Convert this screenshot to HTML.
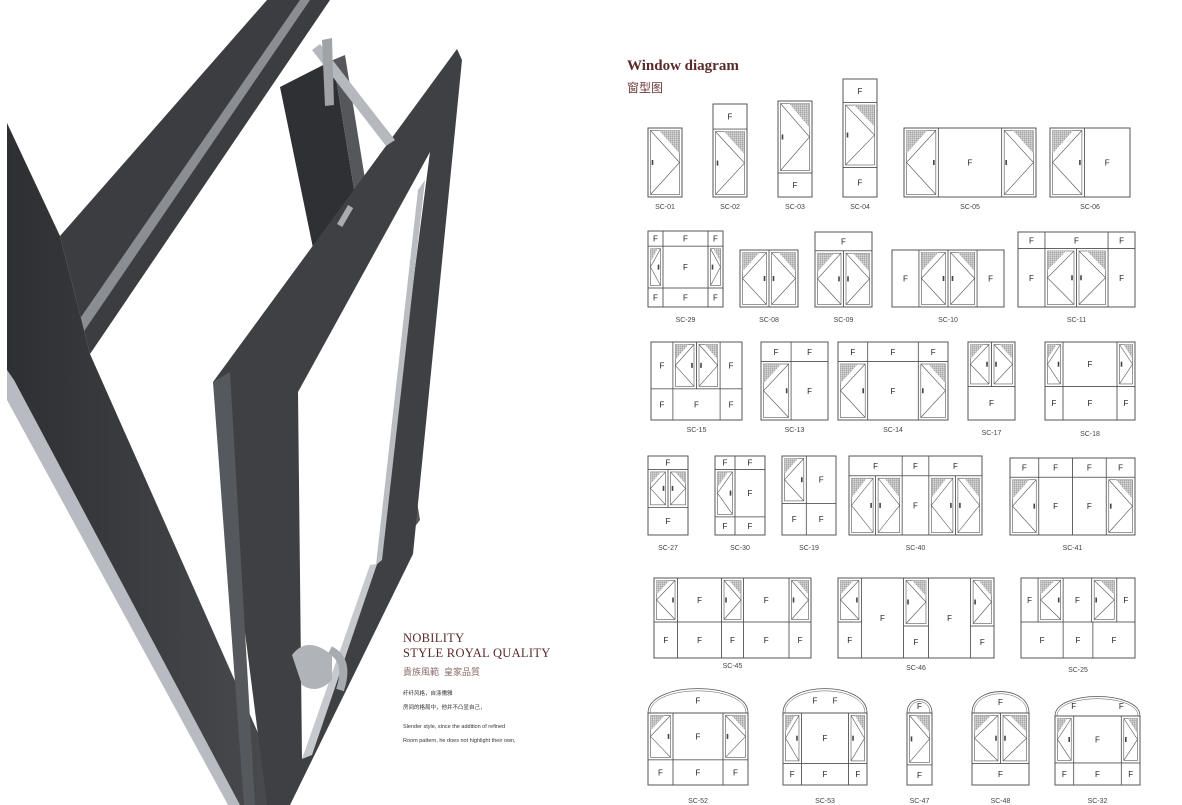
<!DOCTYPE html>
<html><head><meta charset="utf-8"><style>
html,body{margin:0;padding:0;background:#fff;width:1182px;height:805px;overflow:hidden;position:relative}
.t{position:absolute;white-space:nowrap}
.serif{font-family:"Liberation Serif","Noto Serif CJK SC",serif}
.sans{font-family:"Liberation Sans","Noto Sans CJK SC",sans-serif}
</style></head><body>
<svg id="s" width="1182" height="805" style="position:absolute;left:0;top:0">
<defs>
<pattern id="m" width="2" height="2" patternUnits="userSpaceOnUse"><rect width="2" height="2" fill="#d8d8d8"/><path d="M0 0H2M0 0V2" stroke="#777" stroke-width="0.6"/></pattern>
<linearGradient id="g1" x1="0" y1="0" x2="1" y2="0"><stop offset="0" stop-color="#2e2f32"/><stop offset="1" stop-color="#4a4c50"/></linearGradient>
</defs>
<!-- photo -->
<polygon points="267,0 330,0 90,354 60,236" fill="#3c3d41"/>
<polygon points="300,0 310,0 78,340 72,330" fill="#8a8d92"/>
<polygon points="7,123 60,236 90,354 290,805 233,805 7,390" fill="url(#g1)"/>
<polygon points="7,370 14,380 240,805 228,805 7,400" fill="#b8bcc2"/>
<polygon points="280,87 333,60 410,533 377,560" fill="#2f3033"/>
<polygon points="333,60 345,55 420,520 410,533" fill="#55575b"/>
<polygon points="213,382 457,49 462,60 413,554 290,805 267,805" fill="#3f4044"/>
<polygon points="298,392 430,152 377,564 302,759" fill="#fff"/>
<polygon points="213,382 230,372 255,805 244,805" fill="#55585c"/>
<polygon points="370,565 377,564 312,755 302,759" fill="#c5c9ce"/>
<polygon points="418,190 425,180 382,560 376,565" fill="#b9bdc2"/>
<polygon points="312,50 320,44 395,140 386,146" fill="#b5b8bc"/>
<polygon points="322,40 332,38 334,105 325,106" fill="#9fa3a8"/>
<rect x="340" y="205" width="6" height="22" fill="#a8abb0" transform="rotate(30 344 220)"/>
<path d="M292 655 q15 -20 40 0 l0 25 q-15 15 -30 5 z" fill="#b0b3b8"/>
<path d="M330 650 q20 10 10 40" stroke="#a7aaaf" stroke-width="8" fill="none"/>
<g id="w"></g>
</svg>
<div class="t serif" style="left:627px;top:58px;font-size:15px;font-weight:bold;color:#5a2a2a">Window diagram</div>
<div class="t sans" style="left:627px;top:79px;font-size:12px;color:#6b3a3a">窗型图</div>
<div class="t serif" style="left:403px;top:631px;font-size:12.5px;color:#5a2a2a;letter-spacing:0.3px">NOBILITY</div>
<div class="t serif" style="left:403px;top:646px;font-size:12.5px;color:#5a2a2a;letter-spacing:0.3px">STYLE ROYAL QUALITY</div>
<div class="t sans" style="left:403px;top:665px;font-size:9px;color:#8a6a6a">貴族風範&nbsp;&nbsp;皇家品質</div>
<div class="t sans" style="left:403px;top:689px;font-size:5.5px;color:#333">纤纤风格，自涤儒雅</div>
<div class="t sans" style="left:403px;top:703px;font-size:5.5px;color:#333">房间的格局中，他并不凸显自己，</div>
<div class="t sans" style="left:403px;top:724px;font-size:5.5px;color:#333">Slender style, since the addition of refined</div>
<div class="t sans" style="left:403px;top:738px;font-size:5.5px;color:#333">Room pattern, he does not highlight their own,</div>
<script>
var NS="http://www.w3.org/2000/svg",G=document.getElementById('w'),S='#555';
function el(n,a,txt){var e=document.createElementNS(NS,n);for(var k in a)e.setAttribute(k,a[k]);if(txt)e.textContent=txt;G.appendChild(e);return e;}
function rect(x,y,w,h,sw){el('rect',{x:x,y:y,width:w,height:h,fill:'none',stroke:S,'stroke-width':sw||0.7});}
function F(x,y){el('text',{x:x,y:y+3,'font-size':8,'font-family':'Liberation Sans, sans-serif','text-anchor':'middle',fill:'#222'},'F');}
function cell(x,y,w,h,t){
 rect(x,y,w,h);
 if(t=='F'){F(x+w/2,y+h/2);return;}
 var i=2.5,ix=x+i,iy=y+i,iw=w-2*i,ih=h-2*i;
 rect(ix,iy,iw,ih,0.6);
 if(t=='R'){
  el('polygon',{points:(ix+iw*0.3)+','+iy+' '+(ix+iw)+','+iy+' '+(ix+iw)+','+(iy+ih*0.36),fill:'url(#m)',stroke:'none'});
  el('polyline',{points:ix+','+iy+' '+(ix+iw)+','+(iy+ih/2)+' '+ix+','+(iy+ih),fill:'none',stroke:S,'stroke-width':0.6});
  el('rect',{x:ix+1.2,y:iy+ih/2-2.5,width:1.6,height:5,fill:'#444'});
 }else{
  el('polygon',{points:ix+','+iy+' '+(ix+iw*0.7)+','+iy+' '+ix+','+(iy+ih*0.36),fill:'url(#m)',stroke:'none'});
  el('polyline',{points:(ix+iw)+','+iy+' '+ix+','+(iy+ih/2)+' '+(ix+iw)+','+(iy+ih),fill:'none',stroke:S,'stroke-width':0.6});
  el('rect',{x:ix+iw-2.8,y:iy+ih/2-2.5,width:1.6,height:5,fill:'#444'});
 }
}
function rows(R){var c=[],y0=0;R.forEach(function(r){var x0=0;r[1].forEach(function(k){c.push([x0,x0+k[0],y0,y0+r[0],k[1]]);x0+=k[0];});y0+=r[0];});return c;}
function win(x,y,w,h,cells,label,ly,arch,archF){
 if(arch){
  el('path',{d:'M'+x+' '+y+' C'+x+' '+(y-arch*1.3)+' '+(x+w)+' '+(y-arch*1.3)+' '+(x+w)+' '+y,fill:'none',stroke:S,'stroke-width':0.8});
  el('path',{d:'M'+(x+2)+' '+y+' C'+(x+2)+' '+(y-arch*1.3+3)+' '+(x+w-2)+' '+(y-arch*1.3+3)+' '+(x+w-2)+' '+y,fill:'none',stroke:S,'stroke-width':0.5});
  (archF||[0.5]).forEach(function(f){F(x+w*f,y-arch*0.5);});
 }
 rect(x,y,w,h,1);
 cells.forEach(function(c){cell(x+c[0]*w,y+c[2]*h,(c[1]-c[0])*w,(c[3]-c[2])*h,c[4]);});
 el('text',{x:x+w/2,y:ly,'font-size':7,'font-family':'Liberation Sans, sans-serif','text-anchor':'middle',fill:'#444'},label);
}
var FF=function(a){return a.map(function(v){return[v,'F']});};
win(648,128,34,69,rows([[1,[[1,'R']]]]),'SC-01',209);
win(713,104,34,93,rows([[.27,[[1,'F']]],[.73,[[1,'R']]]]),'SC-02',209);
win(778,101,34,96,rows([[.75,[[1,'R']]],[.25,[[1,'F']]]]),'SC-03',209);
win(843,79,34,118,rows([[.2,[[1,'F']]],[.55,[[1,'R']]],[.25,[[1,'F']]]]),'SC-04',209);
win(904,128,132,69,rows([[1,[[.26,'L'],[.48,'F'],[.26,'R']]]]),'SC-05',209);
win(1050,128,80,69,rows([[1,[[.43,'L'],[.57,'F']]]]),'SC-06',209);

win(648,231,75,76,rows([[.2,FF([.2,.6,.2])],[.55,[[.2,'L'],[.6,'F'],[.2,'R']]],[.25,FF([.2,.6,.2])]]),'SC-29',322);
win(740,250,58,57,rows([[1,[[.5,'L'],[.5,'R']]]]),'SC-08',322);
win(815,232,57,75,rows([[.25,[[1,'F']]],[.75,[[.5,'L'],[.5,'R']]]]),'SC-09',322);
win(892,250,112,57,rows([[1,[[.24,'F'],[.26,'L'],[.26,'R'],[.24,'F']]]]),'SC-10',322);
win(1018,232,117,75,rows([[.22,FF([.23,.54,.23])],[.78,[[.23,'F'],[.27,'L'],[.27,'R'],[.23,'F']]]]),'SC-11',322);

win(651,342,91,78,rows([[.6,[[.24,'F'],[.26,'L'],[.26,'R'],[.24,'F']]],[.4,FF([.24,.52,.24])]]),'SC-15',432);
win(761,342,67,78,rows([[.25,FF([.45,.55])],[.75,[[.45,'L'],[.55,'F']]]]),'SC-13',432);
win(838,342,110,78,rows([[.25,FF([.27,.46,.27])],[.75,[[.27,'L'],[.46,'F'],[.27,'R']]]]),'SC-14',432);
win(968,342,47,78,rows([[.57,[[.5,'L'],[.5,'R']]],[.43,[[1,'F']]]]),'SC-17',435);
win(1045,342,90,78,rows([[.57,[[.2,'L'],[.6,'F'],[.2,'R']]],[.43,FF([.2,.6,.2])]]),'SC-18',436);

win(648,456,40,79,rows([[.17,[[1,'F']]],[.48,[[.5,'L'],[.5,'R']]],[.35,[[1,'F']]]]),'SC-27',550);
win(715,456,50,79,rows([[.17,FF([.4,.6])],[.6,[[.4,'L'],[.6,'F']]],[.23,FF([.4,.6])]]),'SC-30',550);
win(782,456,54,79,rows([[.6,[[.45,'L'],[.55,'F']]],[.4,FF([.45,.55])]]),'SC-19',550);
win(849,456,133,79,rows([[.25,FF([.4,.2,.4])],[.75,[[.2,'L'],[.2,'R'],[.2,'F'],[.2,'L'],[.2,'R']]]]),'SC-40',550);
win(1010,458,125,77,rows([[.25,FF([.23,.27,.27,.23])],[.75,[[.23,'L'],[.27,'F'],[.27,'F'],[.23,'R']]]]),'SC-41',550);

win(654,578,157,80,rows([[.55,[[.15,'L'],[.28,'F'],[.14,'R'],[.29,'F'],[.14,'R']]],[.45,FF([.15,.28,.14,.29,.14])]]),'SC-45',668);
win(838,578,156,80,[[0,.15,0,.55,'L'],[0,.15,.55,1,'F'],[.15,.42,0,1,'F'],[.42,.58,0,.6,'R'],[.42,.58,.6,1,'F'],[.58,.85,0,1,'F'],[.85,1,0,.6,'R'],[.85,1,.6,1,'F']],'SC-46',670);
win(1021,578,114,80,rows([[.55,[[.15,'F'],[.22,'L'],[.25,'F'],[.22,'R'],[.16,'F']]],[.45,FF([.37,.26,.37])]]),'SC-25',672);

win(648,713,100,72,rows([[.65,[[.25,'L'],[.5,'F'],[.25,'R']]],[.35,FF([.25,.5,.25])]]),'SC-52',803,25);
win(783,713,84,72,rows([[.7,[[.22,'L'],[.56,'F'],[.22,'R']]],[.3,FF([.22,.56,.22])]]),'SC-53',803,25,[.38,.62]);
win(907,713,25,72,rows([[.72,[[1,'R']]],[.28,[[1,'F']]]]),'SC-47',803,14);
win(972,713,57,72,rows([[.7,[[.5,'L'],[.5,'R']]],[.3,[[1,'F']]]]),'SC-48',803,22);
win(1055,716,85,69,rows([[.68,[[.22,'L'],[.56,'F'],[.22,'R']]],[.32,FF([.22,.56,.22])]]),'SC-32',803,20,[.22,.78]);
</script>
</body></html>
